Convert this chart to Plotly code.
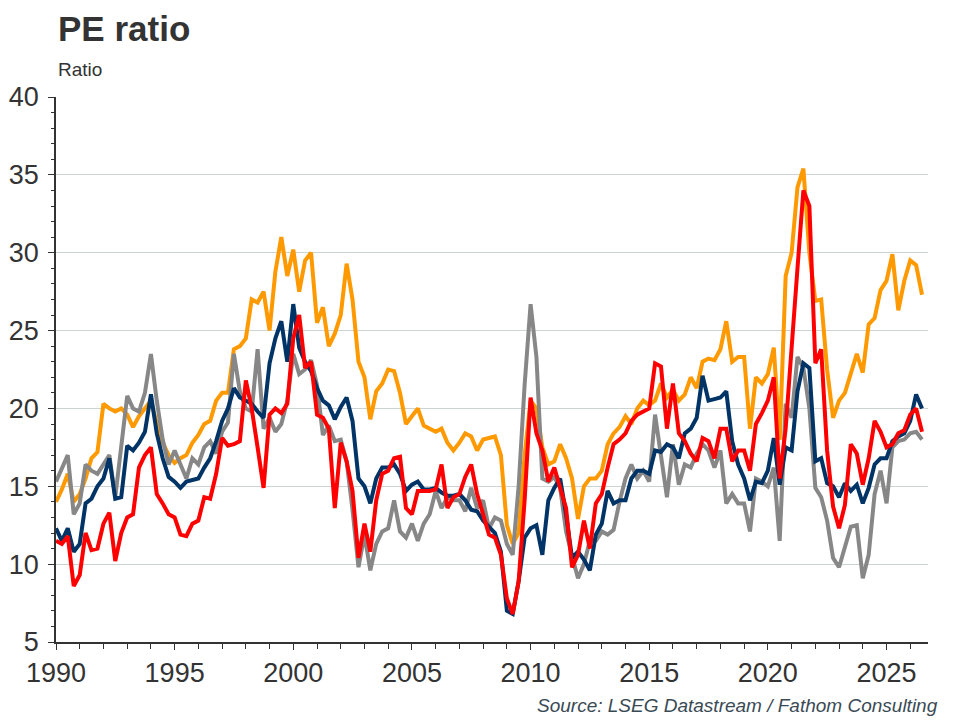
import pandas as pd
import plotly.graph_objects as go

# Quarterly readings, 1990 Q1 onwards
dates = pd.date_range("1990-01-01", periods=147, freq="QS")

orange_values = [
    14.0, 14.8, 15.8, 14.0,  14.5, 15.5, 16.8, 17.2,  20.3, 20.0, 19.8, 20.0,
    19.6, 18.8, 19.5, 20.0,  20.5, 19.0, 17.8, 17.0,  16.5, 16.8, 17.0, 17.8,
    18.3, 19.0, 19.2, 20.5,  21.0, 21.0, 23.8, 24.0,  24.5, 27.0, 26.8, 27.5,
    25.0, 28.8, 31.0, 28.5,  30.2, 27.5, 29.5, 30.0,  25.5, 26.5, 24.0, 24.8,
    26.0, 29.3, 27.0, 23.0,  22.0, 19.3, 21.1, 21.6,  22.5, 22.4, 21.0, 19.0,
    19.5, 20.0, 18.9, 18.7,  18.5, 18.7, 17.8, 17.3,  17.8, 18.4, 18.2, 17.3,
    18.0, 18.1, 18.2, 17.0,  12.5, 11.3, 12.0, 17.0,  20.5, 20.0, 17.5, 16.4,
    16.6, 17.7, 16.8, 15.5,  12.9, 15.0, 15.5, 15.5,  16.0, 17.7, 18.4, 18.8,
    19.5, 19.0, 20.0, 20.5,  20.2, 20.5, 21.6, 20.7,  21.2, 20.5, 20.9, 22.0,
    21.3, 23.0, 23.2, 23.1,  23.8, 25.6, 23.0, 23.3,  23.3, 18.7, 22.0, 21.6,
    22.2, 23.9, 18.0, 28.5,  30.0, 34.2, 35.4, 30.0,  26.9, 27.0, 22.5, 19.4,
    20.5, 21.0, 22.3, 23.5,  22.3, 25.4, 25.8, 27.6,  28.2, 29.9, 26.3, 28.2,
    29.5, 29.2, 27.3,
]

navy_values = [
    12.3, 11.5, 12.3, 10.8,  11.3, 13.9, 14.2, 15.0,  15.5, 16.8, 14.2, 14.3,
    17.6, 17.3, 17.8, 18.5,  20.9, 18.4, 16.8, 15.6,  15.3, 14.9, 15.3, 15.4,
    15.5, 16.2, 16.8, 17.9,  19.2, 20.0, 21.3, 20.7,  20.5, 20.3, 19.8, 19.4,
    22.9, 24.5, 25.6, 23.0,  26.7, 23.9, 23.0, 22.4,  21.3, 20.5, 20.2, 19.3,
    20.1, 20.7, 19.2, 15.5,  15.0, 13.9, 15.5, 16.2,  16.2, 16.4, 15.8, 14.7,
    15.1, 15.3, 14.8, 14.8,  14.9, 14.6, 14.4, 14.4,  14.5, 14.1, 13.5, 13.4,
    12.8, 12.4, 12.0, 10.8,   7.0,  6.8,  8.9, 11.7,  12.3, 12.5, 10.6, 14.1,
    14.9, 15.5, 13.2, 10.4,  10.8, 10.3,  9.6, 11.9,  12.6, 14.7, 13.9, 14.1,
    14.1, 15.5, 16.0, 16.0,  15.8, 17.3, 17.2, 17.7,  17.5, 16.8, 18.4, 18.7,
    19.4, 22.1, 20.5, 20.6,  20.7, 21.1, 17.9, 16.4,  15.5, 14.1, 15.3, 15.2,
    16.0, 18.1, 15.1, 17.5,  17.3, 21.1, 22.9, 22.6,  16.6, 16.8, 15.2, 15.0,
    14.3, 15.2, 14.7, 15.1,  13.9, 14.9, 16.4, 16.8,  16.8, 17.9, 18.2, 18.4,
    19.2, 20.9, 20.0,
]

red_values = [
    11.5, 11.3, 11.8,  8.6,   9.3, 12.0, 10.9, 11.0,  12.6, 13.3, 10.2, 12.0,
    13.0, 13.2, 16.2, 17.0,  17.5, 14.5, 13.9, 13.2,  13.0, 11.9, 11.8, 12.6,
    12.8, 14.3, 14.2, 15.8,  18.1, 17.6, 17.7, 17.9,  21.8, 20.0, 17.5, 14.9,
    19.6, 20.0, 19.7, 20.3,  24.5, 26.0, 22.6, 23.0,  19.6, 19.4, 18.7, 13.6,
    17.8, 16.6, 14.7, 10.4,  12.6, 10.8, 14.1, 15.8,  16.0, 16.8, 16.9, 13.6,
    13.2, 14.7, 14.7, 14.7,  14.8, 16.4, 13.6, 14.3,  14.5, 15.6, 16.4, 14.5,
    13.2, 11.9, 11.7, 10.6,   7.8,  6.8,  8.9, 14.1,  20.7, 18.4, 17.3, 15.3,
    16.2, 14.9, 13.6,  9.8,  10.6, 12.8, 11.0, 13.9,  14.5, 16.2, 17.7, 18.0,
    18.4, 19.2, 19.6, 19.8,  20.0, 22.9, 22.7, 18.7,  21.6, 18.4, 17.9, 17.1,
    16.6, 18.1, 17.9, 16.8,  18.7, 18.7, 16.6, 17.3,  17.3, 16.0, 19.0, 19.7,
    20.5, 22.0, 15.5, 18.7,  24.3, 29.0, 34.0, 33.0,  22.9, 23.8, 17.3, 13.7,
    12.3, 13.8, 17.7, 17.1,  15.1, 16.8, 19.2, 18.5,  17.5, 17.7, 18.4, 18.6,
    19.6, 20.0, 18.5,
]

gray_values = [
    15.3, 16.2, 17.0, 13.2,  13.9, 16.4, 16.0, 15.8,  16.4, 17.0, 14.3, 17.5,
    20.8, 20.0, 19.8, 21.0,  23.5, 20.5, 18.0, 16.4,  17.3, 16.4, 15.5, 16.8,
    16.4, 17.5, 17.9, 17.1,  18.5, 19.1, 23.5, 21.1,  20.0, 19.8, 23.8, 18.7,
    19.4, 18.5, 19.0, 20.5,  23.5, 22.2, 22.5, 23.1,  21.5, 18.3, 18.9, 17.9,
    18.0, 16.6, 13.5,  9.8,  11.9,  9.6, 11.3, 12.1,  12.3, 14.1, 12.1, 11.7,
    12.6, 11.5, 12.6, 13.2,  14.7, 13.6, 14.3, 14.1,  14.1, 13.4, 14.9, 13.6,
    14.1, 12.3, 13.0, 12.8,  11.3, 10.6, 15.0, 21.5,  26.7, 23.3, 15.5, 15.3,
    15.6, 14.9, 12.1, 10.5,   9.1, 10.0, 11.5, 11.5,  12.1, 11.9, 12.2, 14.0,
    15.5, 16.4, 15.5, 16.0,  15.3, 19.6, 16.8, 14.3,  17.7, 15.1, 16.4, 16.2,
    17.1, 17.7, 17.3, 16.2,  17.3, 13.9, 14.5, 13.9,  13.9, 12.1, 15.5, 15.3,
    15.0, 16.2, 11.5, 20.3,  19.4, 23.3, 22.6, 20.0,  14.9, 14.3, 12.8, 10.4,
     9.8, 11.2, 12.4, 12.5,   9.1, 10.6, 14.5, 16.0,  13.9, 17.5, 17.9, 18.0,
    18.4, 18.5, 18.0,
]

series = [
    ("orange", orange_values, "#FF9900"),
    ("gray", gray_values, "#878787"),
    ("navy", navy_values, "#003366"),
    ("red", red_values, "#FF0000"),
]

fig = go.Figure()
for name, values, colour in series:
    fig.add_trace(
        go.Scatter(
            x=dates,
            y=values,
            mode="lines",
            name=name,
            line=dict(color=colour, width=4),
        )
    )

# the page adds an 8px body margin, so the figure is 8px smaller on each axis
fig.update_layout(
    width=952,
    height=712,
    paper_bgcolor="white",
    plot_bgcolor="white",
    showlegend=False,
    margin=dict(l=48, r=32, t=89, b=78),
    font=dict(family="Liberation Sans, Arial, sans-serif", color="#333333"),
)

fig.update_xaxes(
    type="date",
    range=["1990-01-01", "2026-10-01"],
    tick0="1990-01-01",
    dtick="M60",
    tickformat="%Y",
    ticks="outside",
    ticklen=6,
    tickcolor="#333333",
    showline=True,
    linecolor="#333333",
    linewidth=1.5,
    showgrid=False,
    automargin=False,
    tickfont=dict(size=27, color="#333333"),
    minor=dict(dtick="M12", ticks="outside", ticklen=5, tickcolor="#333333"),
)
fig.update_yaxes(
    range=[5, 40],
    dtick=5,
    ticks="outside",
    ticklen=6,
    tickcolor="#333333",
    showline=True,
    linecolor="#333333",
    linewidth=1.5,
    showgrid=True,
    gridcolor="#CCD3D3",
    gridwidth=1,
    zeroline=False,
    automargin=False,
    ticklabelstandoff=4,
    tickfont=dict(size=27, color="#333333"),
    minor=dict(dtick=1, ticks="outside", ticklen=3, tickcolor="#333333", showgrid=False),
)

fig.add_annotation(
    text="<b>PE ratio</b>", xref="paper", yref="paper", x=0, y=1.125,
    xanchor="left", yanchor="middle", showarrow=False,
    font=dict(size=35, color="#333333"),
)
fig.add_annotation(
    text="Ratio", xref="paper", yref="paper", x=0, y=1.051,
    xanchor="left", yanchor="middle", showarrow=False,
    font=dict(size=19, color="#333333"),
)
fig.add_annotation(
    text="<i>Source: LSEG Datastream / Fathom Consulting</i>",
    xref="paper", yref="paper", x=1.0138, y=-0.116,
    xanchor="right", yanchor="middle", showarrow=False,
    font=dict(size=19, color="#3A4A55"),
)

fig.write_html("out.html")
